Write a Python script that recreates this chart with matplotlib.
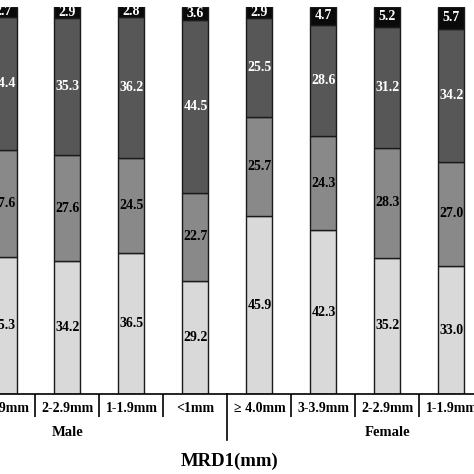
import matplotlib
matplotlib.use("Agg")
import matplotlib.pyplot as plt
import numpy as np

categories = ["3-3.9mm", "2-2.9mm", "1-1.9mm", "<1mm",
              "\u2265 4.0mm", "3-3.9mm", "2-2.9mm", "1-1.9mm"]
seg1 = [35.3, 34.2, 36.5, 29.2, 45.9, 42.3, 35.2, 33.0]   # lightest (bottom)
seg2 = [27.6, 27.6, 24.5, 22.7, 25.7, 24.3, 28.3, 27.0]   # mid grey
seg3 = [34.4, 35.3, 36.2, 44.5, 25.5, 28.6, 31.2, 34.2]   # dark grey
seg4 = [2.7, 2.9, 2.8, 3.6, 2.9, 4.7, 5.2, 5.7]           # black (top)
groups = ["Male", "Female"]
group_centers = [1, 6]
xlabel = "MRD1(mm)"

series = [seg1, seg2, seg3, seg4]
fills = ["#d9d9d9", "#898989", "#575757", "#0a0a0a"]
text_colors = ["black", "black", "white", "white"]

plt.rcParams['font.family'] = ['Liberation Serif', 'DejaVu Serif']

W = 474
fig = plt.figure(figsize=(4.74, 4.74), dpi=100)
ax_bottom = (474 - 394) / 474
ax_top = (474 - 6.5) / 474
ax = fig.add_axes([0, ax_bottom, 1, ax_top - ax_bottom])

x = np.arange(len(categories))
spacing_px = 64.0
x0_px = 3.5

width = 26 / spacing_px
bottom = np.zeros(len(categories))
for vals, fc, tc in zip(series, fills, text_colors):
    vals = np.array(vals)
    ax.bar(x, vals, width=width, bottom=bottom, color=fc,
           edgecolor="#1a1a1a", linewidth=1.0, zorder=2)
    for xi, b, v in zip(x, bottom, vals):
        ax.text(xi, b + v / 2, f"{v:.1f}", ha="center", va="center",
                color=tc, fontsize=10, fontweight="bold", zorder=3)
    bottom = bottom + vals

for s in ["top", "right", "left"]:
    ax.spines[s].set_visible(False)
ax.spines["bottom"].set_linewidth(1.2)
ax.set_yticks([])

ax.set_xticks(x)
ax.set_xticklabels(categories, fontsize=10, fontweight="bold")
ax.tick_params(axis="x", which="major", length=0, pad=6)
seps = [i + 0.5 for i in range(0, len(categories) - 1) if i + 0.5 != 3.5]
ax.set_xticks(seps, minor=True)
ax.tick_params(axis="x", which="minor", length=16.5, width=1.2, direction="out")

ax.set_xlim(-x0_px / spacing_px, (W - x0_px) / spacing_px)
ax.set_ylim(0, 100)

axh_px = (ax_top - ax_bottom) * 474
trans = ax.get_xaxis_transform()
ax.plot([3.5, 3.5], [0, -46 / axh_px], transform=trans, color="black",
        lw=1.2, clip_on=False)

for g, c in zip(groups, group_centers):
    ax.text(c, -38 / axh_px, g, transform=trans, ha="center", va="center",
            fontsize=10.5, fontweight="bold")

fig.text(230 / W, (474 - 461) / 474, xlabel, ha="center", va="center",
         fontsize=13.5, fontweight="bold")

ax.set_xlim(-x0_px / spacing_px, (W - x0_px) / spacing_px)

fig.savefig("out.png", dpi=100, facecolor="white")
